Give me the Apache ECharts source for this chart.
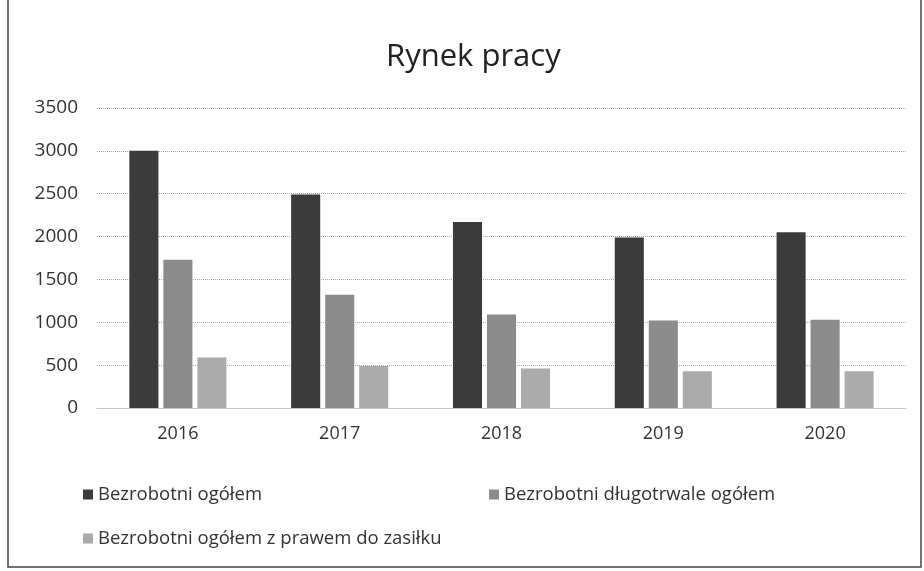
<!DOCTYPE html>
<html>
<head>
<meta charset="utf-8">
<script src="https://cdn.jsdelivr.net/npm/echarts@6/dist/echarts.min.js"></script>
<style>
  html, body { margin: 0; padding: 0; background: #fff; }
  #chart { width: 924px; height: 571px; }
</style>
</head>
<body>
<div id="chart"></div>
<script>
var years = ['2016', '2017', '2018', '2019', '2020'];
var seriesNames = ['Bezrobotni ogółem', 'Bezrobotni długotrwale ogółem', 'Bezrobotni ogółem z prawem do zasiłku'];
var ogolem = [3000, 2490, 2170, 1990, 2050];
var dlugotrwale = [1730, 1320, 1090, 1020, 1030];
var zasilek = [590, 490, 460, 430, 430];
var colors = ['#3b3b3b', '#8c8c8c', '#ababab'];

var myChart = echarts.init(document.getElementById('chart'));
var font = 'Open Sans, Noto Sans, sans-serif';
var option = {
    animation: false,
    title: {
        text: 'Rynek pracy',
        left: 386,
        top: 42,
        padding: 0,
        textStyle: { fontFamily: font, fontSize: 31, fontWeight: 'normal', color: '#222' }
    },
    graphic: [{
        type: 'rect',
        shape: { x: 8, y: -5, width: 913, height: 572 },
        style: { fill: 'none', stroke: '#444', lineWidth: 1.5 }
    }],
    legend: [
        { left: 78, top: 480, data: [seriesNames[0]] },
        { left: 484, top: 480, data: [seriesNames[1]] },
        { left: 78, top: 524, data: [seriesNames[2]] }
    ].map(function (l) {
        l.itemWidth = 10;
        l.itemHeight = 10;
        l.icon = 'rect';
        l.itemGap = 4;
        l.textStyle = { fontFamily: font, fontSize: 18.5, color: '#333' };
        return l;
    }),
    grid: { left: 97, right: 18, top: 108, bottom: 163, containLabel: false },
    xAxis: {
        type: 'category',
        data: years,
        axisTick: { show: false },
        axisLine: { lineStyle: { color: '#bbb', type: 'dotted' } },
        axisLabel: { fontFamily: font, fontSize: 18, color: '#333', margin: 17 }
    },
    yAxis: {
        type: 'value',
        min: 0,
        max: 3500,
        interval: 500,
        axisLine: { show: false },
        axisLabel: {
            fontFamily: font, fontSize: 19, color: '#333', margin: 19,
            formatter: function (v) { return String(v); }
        },
        splitLine: { lineStyle: { color: '#aaa', type: 'dotted', width: 1 } }
    },
    series: [
        { name: seriesNames[0], type: 'bar', data: ogolem, itemStyle: { color: colors[0] }, barGap: '17%', barCategoryGap: '40%' },
        { name: seriesNames[1], type: 'bar', data: dlugotrwale, itemStyle: { color: colors[1] } },
        { name: seriesNames[2], type: 'bar', data: zasilek, itemStyle: { color: colors[2] } }
    ]
};
myChart.setOption(option);
</script>
</body>
</html>
